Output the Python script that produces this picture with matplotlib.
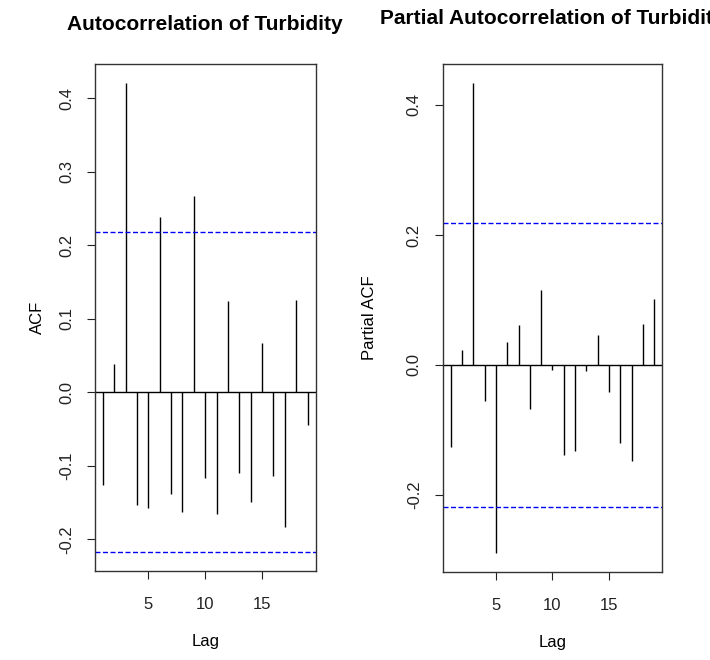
import matplotlib
matplotlib.use('Agg')
import matplotlib.pyplot as plt
import numpy as np

plt.rcParams['font.family'] = ['Liberation Sans', 'DejaVu Sans']

lags = np.arange(1, 20)

# sample autocorrelation of turbidity, lags 1..19
acf_vals = [-0.126, 0.038, 0.421, -0.153, -0.157, 0.238, -0.138, -0.163, 0.267,
            -0.117, -0.166, 0.124, -0.110, -0.150, 0.067, -0.114, -0.183, 0.126,
            -0.044]

# partial autocorrelation, lags 1..19
pacf_vals = [-0.126, 0.023, 0.434, -0.055, -0.289, 0.036, 0.061, -0.068, 0.116,
             -0.008, -0.139, -0.132, -0.010, 0.046, -0.041, -0.120, -0.147, 0.063,
             0.102]

n_obs = 81
ci = 1.96 / np.sqrt(n_obs)

acf_yticks = [-0.2, -0.1, 0.0, 0.1, 0.2, 0.3, 0.4]
pacf_yticks = [-0.2, 0.0, 0.2, 0.4]
xticks = [5, 10, 15]


def r_ylim(vals):
    lo = min(min(vals), -ci)
    hi = max(max(vals), ci)
    pad = (hi - lo) * 0.04
    return lo - pad, hi + pad


def draw_panel(ax, vals, yticks, ylabel, ylab_x, title, title_y):
    ax.vlines(lags, 0, vals, color='black', linewidth=1)
    ax.axhline(0, color='black', linewidth=1)
    ax.axhline(ci, color='blue', linewidth=1, linestyle=(0, (3.6, 1.8)))
    ax.axhline(-ci, color='blue', linewidth=1, linestyle=(0, (3.6, 1.8)))
    ax.set_xlim(1 - 18 * 0.04, 19 + 18 * 0.04)
    ax.set_ylim(*r_ylim(vals))
    ax.set_xticks(xticks)
    ax.set_xticklabels([str(t) for t in xticks])
    ax.set_yticks(yticks)
    ax.set_yticklabels(['%.1f' % t for t in yticks], rotation=90, va='center')
    ax.tick_params(direction='out', length=6, width=0.8, labelsize=12,
                   colors='#222222', pad=9)
    ax.tick_params(axis='x', pad=13)
    for s in ax.spines.values():
        s.set_color('#333333')
        s.set_linewidth(1)
    ax.set_xlabel('Lag', fontsize=12, va='center')
    ax.xaxis.set_label_coords(0.5, -0.140)
    ax.set_ylabel(ylabel, fontsize=12, va='center')
    ax.yaxis.set_label_coords(ylab_x, 0.5)
    fig = ax.figure
    pos = ax.get_position()
    fig.text(pos.x0 + pos.width / 2, title_y, title, ha='center', va='center',
             fontsize=15, fontweight='bold')


fig = plt.figure(figsize=(7.1, 6.6), dpi=100)
ax1 = fig.add_axes([0.1334, 0.1348, 0.3113, 0.768])
ax2 = fig.add_axes([0.6235, 0.1338, 0.3093, 0.7692])

draw_panel(ax1, acf_vals, acf_yticks, 'ACF', -0.257,
           'Autocorrelation of Turbidity', 0.963)
draw_panel(ax2, pacf_vals, pacf_yticks, 'Partial ACF', -0.331,
           'Partial Autocorrelation of Turbidity', 0.972)

fig.savefig('out.png', dpi=100)
